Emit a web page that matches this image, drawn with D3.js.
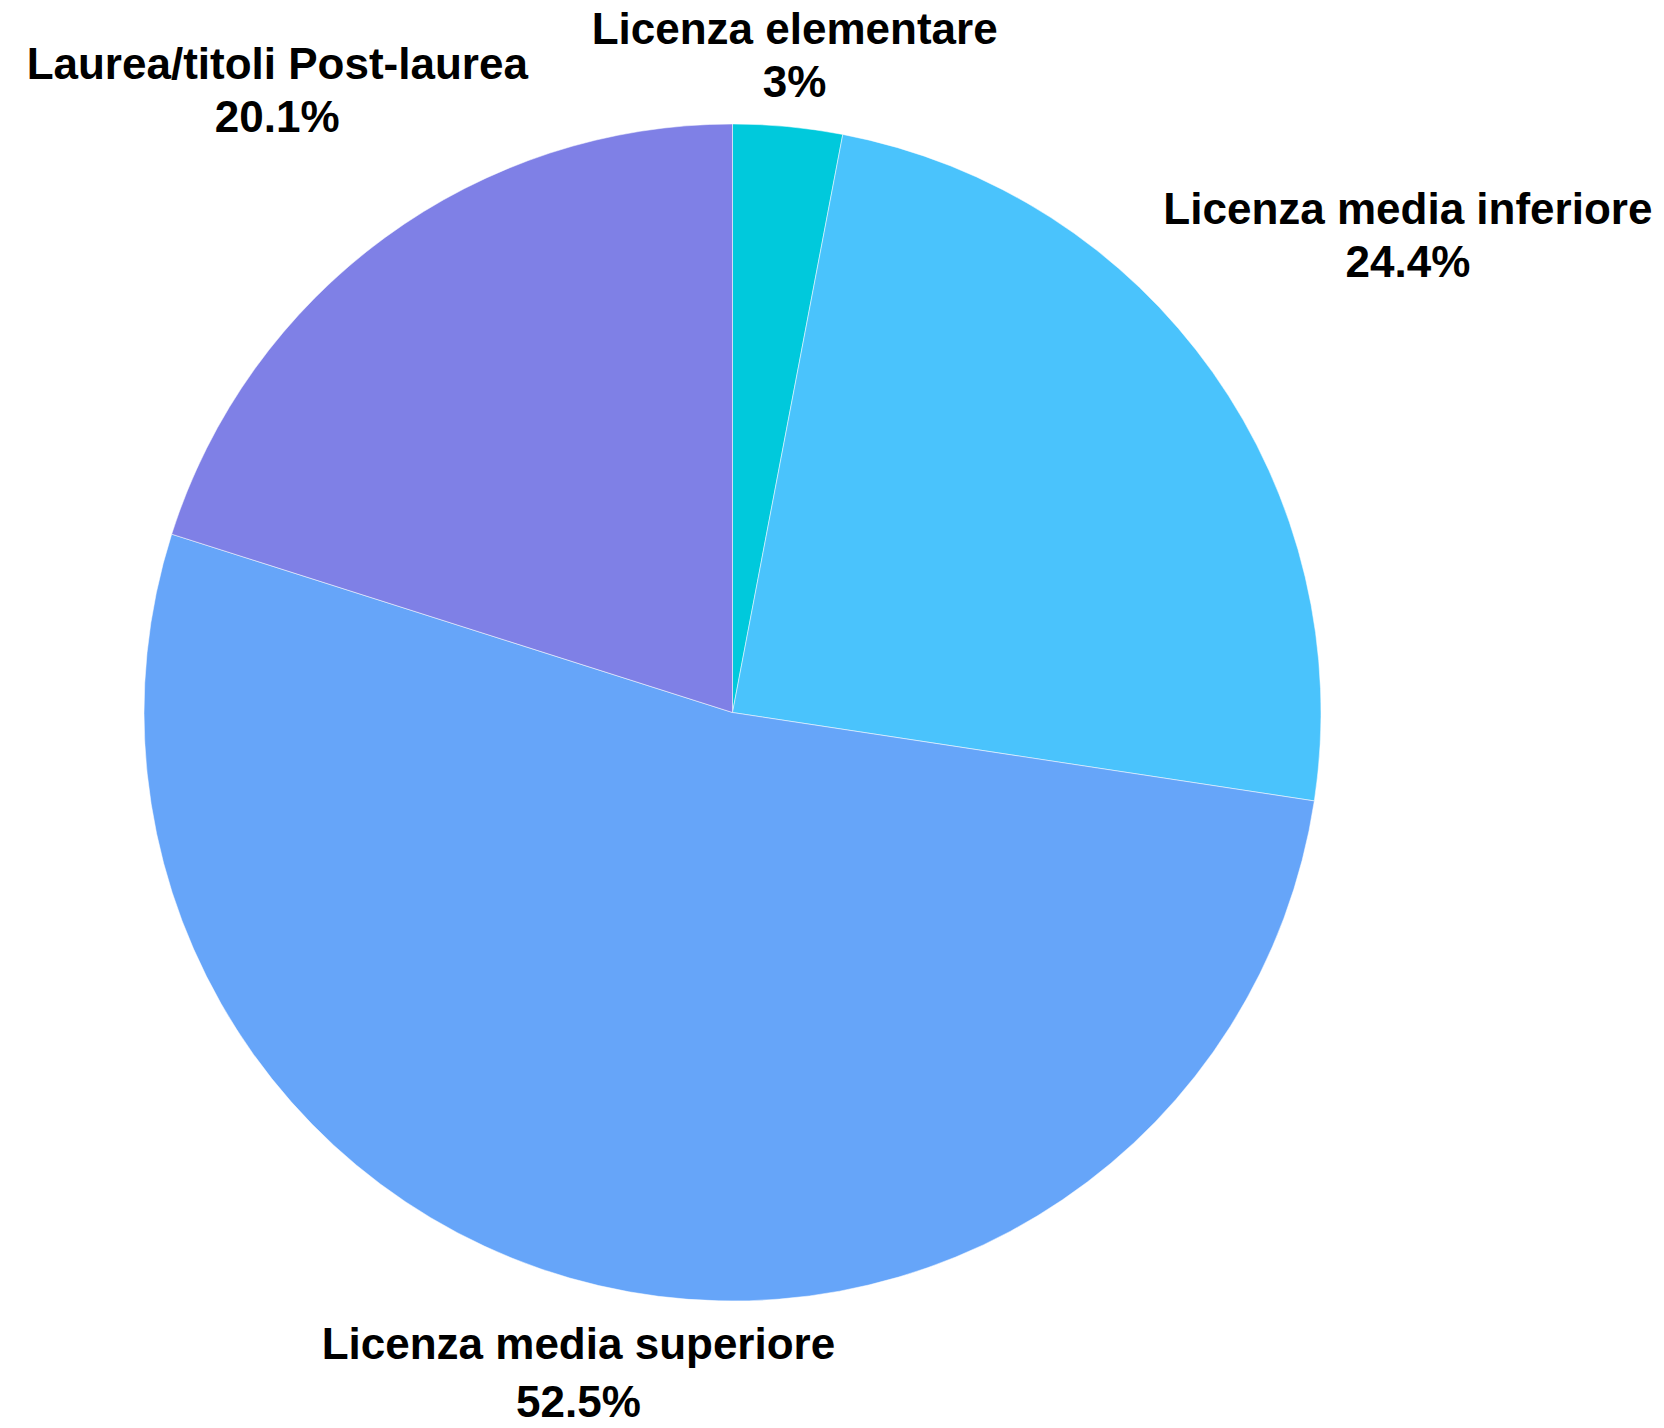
<!DOCTYPE html>
<html>
<head>
<meta charset="utf-8">
<script src="https://cdn.jsdelivr.net/npm/d3@7"></script>
<style>
  html, body { margin: 0; padding: 0; background: #ffffff; }
  svg { display: block; }
  text { font-family: "Liberation Sans", Arial, sans-serif; font-weight: bold; fill: #000; }
</style>
</head>
<body>
<svg id="chart" width="1664" height="1428"></svg>
<script>
// Titolo di studio: distribuzione percentuale
const categories = ["Licenza elementare", "Licenza media inferiore", "Licenza media superiore", "Laurea/titoli Post-laurea"];
const values = [3, 24.4, 52.5, 20.1];
const valueLabels = ["3%", "24.4%", "52.5%", "20.1%"];
const colors = ["#00C9DC", "#4AC3FC", "#66A5F9", "#7F80E6"];

const width = 1664, height = 1428;
const cx = 732.5, cy = 712.5, radius = 588.5;
const labelGap = 18;
const fontSize = 44;

const svg = d3.select("#chart");
const g = svg.append("g").attr("transform", `translate(${cx},${cy})`);

const data = categories.map((c, i) => ({ name: c, value: values[i], label: valueLabels[i], color: colors[i] }));

const pie = d3.pie().value(d => d.value).sort(null);
const arc = d3.arc().innerRadius(0).outerRadius(radius);
const arcs = pie(data);

g.selectAll("path.slice")
  .data(arcs)
  .join("path")
  .attr("class", "slice")
  .attr("d", arc)
  .attr("fill", d => d.data.color)
  .attr("stroke", "rgba(255,255,255,0.5)")
  .attr("stroke-width", 1);

// Two-line labels outside the pie, centred on each slice's mid-angle ray,
// pushed out until the text box clears the rim by labelGap.
const labels = g.selectAll("g.label")
  .data(arcs)
  .join("g")
  .attr("class", "label");

labels.each(function (d) {
  const mid = (d.startAngle + d.endAngle) / 2;
  const below = Math.cos(mid) < 0;
  const lineHeight = below ? 58 : 53;
  const t = d3.select(this).append("text")
    .attr("text-anchor", "middle")
    .style("font-size", fontSize + "px");
  t.append("tspan").attr("x", 0).attr("y", 0).text(d.data.name);
  t.append("tspan").attr("x", 0).attr("y", lineHeight).text(d.data.label);

  const bb = this.getBBox();
  const bcx = bb.x + bb.width / 2, bcy = bb.y + bb.height / 2;
  const dx = Math.sin(mid), dy = -Math.cos(mid);

  // distance from pie centre to the nearest point of the label box at offset s
  const nearest = s => {
    const px = s * dx, py = s * dy;
    const x0 = px - bb.width / 2, x1 = px + bb.width / 2;
    const y0 = py - bb.height / 2, y1 = py + bb.height / 2;
    const nx = Math.max(x0, Math.min(0, x1));
    const ny = Math.max(y0, Math.min(0, y1));
    return Math.hypot(nx, ny);
  };
  let lo = 0, hi = 2000;
  for (let k = 0; k < 60; k++) {
    const m = (lo + hi) / 2;
    if (nearest(m) < radius + labelGap) lo = m; else hi = m;
  }
  const s = hi;
  d3.select(this).attr("transform", `translate(${s * dx - bcx},${s * dy - bcy})`);
});
</script>
</body>
</html>
